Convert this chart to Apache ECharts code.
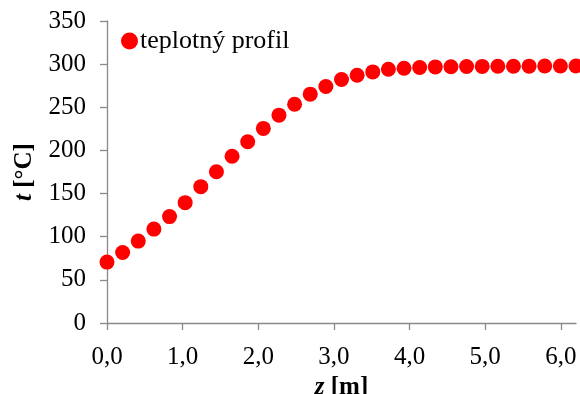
<!DOCTYPE html>
<html><head><meta charset="utf-8">
<script src="https://cdn.jsdelivr.net/npm/echarts@6/dist/echarts.min.js"></script>
<style>html,body{margin:0;padding:0;background:#fff;overflow:hidden}#c{width:580px;height:394px}</style>
</head><body><div id="c"></div>
<script>
const zStep = 6.2 / 30;
const zPositions = Array.from({length: 31}, (_, i) => +(i * zStep).toFixed(4));
const temperatures = [70.6, 81.7, 94.9, 108.8, 123.3, 139.5, 158, 175.3, 193.2, 210, 225.5, 240.9, 253.6, 265.2, 274.1, 282.2, 287.2, 291, 294.1, 295.3, 296.1, 296.8, 297, 297.2, 297.4, 297.5, 297.6, 297.7, 297.8, 297.8, 297.9];
const xTicks = [0, 1, 2, 3, 4, 5, 6];
const yTicks = [0, 50, 100, 150, 200, 250, 300, 350];
const seriesName = 'teplotný profil';

const font = 'Liberation Serif';
const axisColor = '#898989';
const chart = echarts.init(document.getElementById('c'));
chart.setOption({
  animation: false,
  grid: {left: 107, right: 4, top: 21, bottom: 71, containLabel: false, outerBoundsMode: 'none'},
  legend: {
    left: 116, top: 23, itemWidth: 17, itemHeight: 17, itemGap: 4,
    textStyle: {fontFamily: font, fontSize: 26, color: '#000', padding: [0, 0, 0, -3]},
    data: [{name: seriesName, icon: 'circle'}]
  },
  xAxis: {
    type: 'value', min: 0, max: 6.2,
    axisLine: {lineStyle: {color: axisColor, width: 1.3}},
    axisTick: {show: true, length: 7, lineStyle: {color: axisColor, width: 1.3}, customValues: xTicks},
    axisLabel: {customValues: xTicks, formatter: v => v.toFixed(1).replace('.', ','), fontFamily: font, fontSize: 25, color: '#000', margin: 22},
    splitLine: {show: false},
    name: '{i|z} {b|[m]}', nameLocation: 'middle', nameGap: 52,
    nameTextStyle: {fontFamily: font, fontSize: 25, fontWeight: 'bold', rich: {i: {fontFamily: font, fontSize: 25, fontWeight: 'bold', fontStyle: 'italic', color: '#000'}, b: {fontFamily: font, fontSize: 25, fontWeight: 'bold', color: '#000'}}}
  },
  yAxis: {
    type: 'value', min: 0, max: 350, interval: 50,
    axisLine: {show: true, lineStyle: {color: axisColor, width: 1.3}},
    axisTick: {show: true, length: 7, lineStyle: {color: axisColor, width: 1.3}, customValues: yTicks},
    axisLabel: {customValues: yTicks, fontFamily: font, fontSize: 25, color: '#000', margin: 21},
    splitLine: {show: false},
    name: '{i|t} {b|[°C]}', nameLocation: 'middle', nameGap: 70, nameRotate: 90,
    nameTextStyle: {fontFamily: font, fontSize: 25, fontWeight: 'bold', rich: {i: {fontFamily: font, fontSize: 25, fontWeight: 'bold', fontStyle: 'italic', color: '#000'}, b: {fontFamily: font, fontSize: 25, fontWeight: 'bold', color: '#000'}}}
  },
  series: [{
    name: seriesName, type: 'scatter', symbol: 'circle', symbolSize: 15,
    itemStyle: {color: '#FF0000', opacity: 1},
    data: zPositions.map((z, i) => [z, temperatures[i]])
  }]
});
</script></body></html>
